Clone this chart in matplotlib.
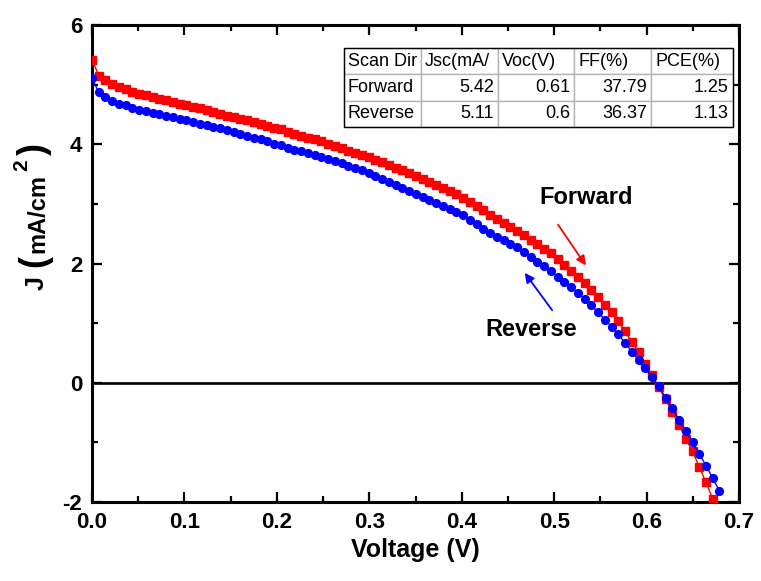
import matplotlib
matplotlib.use("Agg")
import matplotlib.pyplot as plt
from matplotlib.patches import Rectangle

plt.rcParams['font.family'] = ['Liberation Sans', 'DejaVu Sans']
plt.rcParams['axes.unicode_minus'] = False

# ----------------------
# DATOS
# ----------------------
voltage = [0.0000, 0.0073, 0.0146, 0.0219, 0.0292, 0.0365, 0.0438, 0.0511, 0.0584, 0.0657,
           0.0730, 0.0803, 0.0876, 0.0949, 0.1022, 0.1095, 0.1168, 0.1241, 0.1314, 0.1387,
           0.1460, 0.1533, 0.1606, 0.1679, 0.1752, 0.1825, 0.1898, 0.1971, 0.2044, 0.2117,
           0.2190, 0.2263, 0.2336, 0.2409, 0.2482, 0.2555, 0.2628, 0.2701, 0.2774, 0.2847,
           0.2920, 0.2993, 0.3066, 0.3139, 0.3212, 0.3285, 0.3358, 0.3431, 0.3504, 0.3577,
           0.3650, 0.3723, 0.3796, 0.3869, 0.3942, 0.4015, 0.4088, 0.4161, 0.4234, 0.4307,
           0.4380, 0.4453, 0.4526, 0.4599, 0.4672, 0.4745, 0.4818, 0.4891, 0.4964, 0.5037,
           0.5110, 0.5183, 0.5256, 0.5329, 0.5402, 0.5475, 0.5548, 0.5621, 0.5694, 0.5767,
           0.5840, 0.5913, 0.5986, 0.6059, 0.6132, 0.6205, 0.6278, 0.6351, 0.6424, 0.6497,
           0.6570, 0.6643, 0.6716, 0.6789]

j_forward = [5.42, 5.15, 5.07, 5.01, 4.96, 4.92, 4.88, 4.85, 4.82, 4.79,
             4.76, 4.74, 4.71, 4.68, 4.65, 4.62, 4.60, 4.57, 4.54, 4.51,
             4.48, 4.46, 4.43, 4.40, 4.37, 4.34, 4.31, 4.28, 4.25, 4.21,
             4.18, 4.14, 4.11, 4.08, 4.05, 4.01, 3.97, 3.93, 3.89, 3.86,
             3.82, 3.78, 3.74, 3.70, 3.66, 3.61, 3.56, 3.51, 3.46, 3.41,
             3.36, 3.31, 3.26, 3.21, 3.16, 3.10, 3.03, 2.96, 2.89, 2.82,
             2.75, 2.68, 2.61, 2.55, 2.48, 2.40, 2.33, 2.25, 2.17, 2.07,
             1.98, 1.88, 1.78, 1.67, 1.55, 1.43, 1.30, 1.18, 1.03, 0.86,
             0.69, 0.51, 0.32, 0.13, -0.07, -0.28, -0.49, -0.71, -0.94, -1.15,
             -1.41, -1.67, -1.95]

j_reverse = [5.11, 4.87, 4.79, 4.73, 4.68, 4.65, 4.61, 4.58, 4.55, 4.53,
             4.50, 4.48, 4.45, 4.43, 4.40, 4.37, 4.34, 4.32, 4.29, 4.27,
             4.24, 4.21, 4.18, 4.14, 4.11, 4.08, 4.05, 4.01, 3.98, 3.94,
             3.91, 3.88, 3.85, 3.82, 3.79, 3.76, 3.72, 3.68, 3.64, 3.60,
             3.56, 3.51, 3.47, 3.42, 3.37, 3.32, 3.27, 3.22, 3.17, 3.12,
             3.07, 3.02, 2.97, 2.92, 2.87, 2.81, 2.73, 2.66, 2.58, 2.51,
             2.45, 2.39, 2.33, 2.27, 2.19, 2.11, 2.03, 1.95, 1.87, 1.78,
             1.69, 1.60, 1.51, 1.41, 1.30, 1.18, 1.06, 0.94, 0.81, 0.67,
             0.52, 0.38, 0.24, 0.10, -0.06, -0.25, -0.43, -0.62, -0.81, -1.00,
             -1.19, -1.39, -1.60, -1.82]

# tabla de parámetros
tabla_encabezado = ["Scan Dir", "Jsc(mA/", "Voc(V)", "FF(%)", "PCE(%)"]
tabla_filas = [["Forward", "5.42", "0.61", "37.79", "1.25"],
               ["Reverse", "5.11", "0.6", "36.37", "1.13"]]

x_ticks = [0.0, 0.1, 0.2, 0.3, 0.4, 0.5, 0.6, 0.7]
y_ticks = [-2, 0, 2, 4, 6]

# ----------------------
# FIGURA
# ----------------------
W, H = 761, 581
fig = plt.figure(figsize=(W / 100, H / 100), dpi=100)
ax = fig.add_axes([92 / W, 79 / H, 647 / W, 477 / H])

ax.axhline(0, color='black', linewidth=1.9, zorder=1)

n_f = len(j_forward)
ax.plot(voltage[:n_f], j_forward, color='#ff0000', marker='s', markersize=5.2,
        linewidth=1.0, zorder=3)
ax.plot(voltage[:len(j_reverse)], j_reverse, color='#0000ff', marker='o', markersize=5.6,
        linewidth=1.0, zorder=4)

ax.set_xlim(0, 0.7)
ax.set_ylim(-2, 6)
ax.set_xticks(x_ticks)
ax.set_xticklabels([f"{t:.1f}" for t in x_ticks])
ax.set_yticks(y_ticks)
ax.set_xticks([0.05, 0.15, 0.25, 0.35, 0.45, 0.55, 0.65], minor=True)
ax.set_yticks([-1, 1, 3, 5], minor=True)

for s in ax.spines.values():
    s.set_linewidth(2.2)
ax.tick_params(which='both', direction='in', top=True, right=True, width=1.6)
ax.tick_params(which='major', length=7, labelsize=16, pad=7)
ax.tick_params(which='minor', length=4)
for lab in ax.get_xticklabels() + ax.get_yticklabels():
    lab.set_fontweight('bold')

ax.set_xlabel("Voltage (V)", fontsize=18, fontweight='bold', labelpad=4)

# etiqueta Y armada por piezas: J ( mA/cm ^2 )
def pieza(texto, x_px, y_px, size):
    fig.text(x_px / W, 1 - y_px / H, texto, rotation=90, rotation_mode='anchor',
             ha='center', va='baseline', fontsize=size, fontweight='bold')

pieza("J", 44, 283, 18)
pieza("(", 44, 261, 26)
pieza("mA/cm", 44, 214, 17)
pieza("2", 27, 165, 15)
pieza(")", 44, 149, 26)

# anotaciones
ax.text(0.535, 3.1, "Forward", fontsize=17, fontweight='bold', ha='center', va='center')
ax.text(0.475, 0.89, "Reverse", fontsize=17, fontweight='bold', ha='center', va='center')
ax.annotate("", xy=(0.536, 1.93), xytext=(0.5025, 2.69),
            arrowprops=dict(arrowstyle='-|>', color='#ff0000', lw=1.3, mutation_scale=14))
ax.annotate("", xy=(0.4664, 1.88), xytext=(0.4996, 1.18),
            arrowprops=dict(arrowstyle='-|>', color='#0000ff', lw=1.3, mutation_scale=14))

# tabla
x0, x1 = (344 - 92) / 647, (733 - 92) / 647
y0, y1 = (502 - 127) / 477, (502 - 48) / 477
tabla = ax.table(cellText=tabla_filas, colLabels=tabla_encabezado,
                 colWidths=[77, 77, 77, 77, 82], bbox=[x0, y0, x1 - x0, y1 - y0])
tabla.auto_set_font_size(False)
tabla.set_fontsize(13)
for (r, c), cell in tabla.get_celld().items():
    cell.set_edgecolor('#b4b4b4')
    cell.set_linewidth(1.0)
    cell.set_facecolor('white')
    cell.PAD = 0.05
    alin = 'left' if (r == 0 or c == 0) else 'right'
    cell._loc = alin
    cell.get_text().set_horizontalalignment(alin)
ax.add_patch(Rectangle((x0, y0), x1 - x0, y1 - y0, transform=ax.transAxes,
                       fill=False, edgecolor='black', linewidth=1.0, zorder=10))

fig.savefig("out.png", dpi=100)
